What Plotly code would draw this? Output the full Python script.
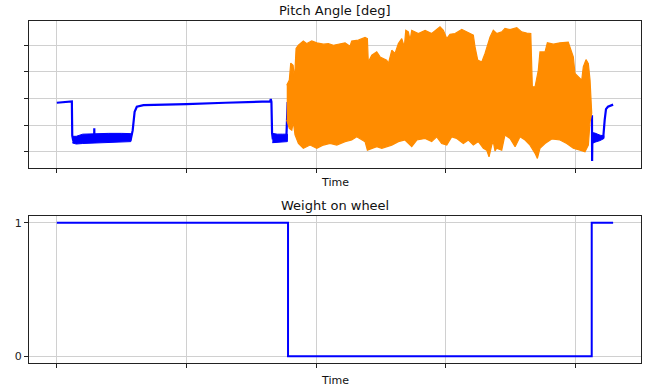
import plotly.graph_objects as go
from plotly.subplots import make_subplots

# ---------------- data ----------------
# Pitch angle, on-ground portions (blue line)
blue_x = [0.0, 0.116, 0.119, 0.125, 0.288, 0.289, 0.29, 0.57, 0.585, 0.60, 0.617, 0.668, 0.8, 1.0, 1.3,
          1.645, 1.65, 1.655, 1.66, 1.665, 1.77, 1.775, 1.78,
          None,
          4.127, 4.128, 4.129, 4.13, 4.135, 4.19, 4.2, 4.215, 4.225, 4.235, 4.25, 4.27, 4.29]
blue_y = [1.84, 1.89, 0.6, 0.45, 0.45, 0.88, 0.45, 0.45, 0.8, 1.5, 1.69, 1.75, 1.76, 1.79, 1.84,
          1.89, 1.98, 1.87, 0.7, 0.5, 0.5, 1.2, 1.87,
          None,
          1.37, -0.35, -0.3, 0.5, 0.5, 0.5, 0.55, 0.6, 1.2, 1.6, 1.69, 1.74, 1.77]

# Noisy blue bands on ground (upper / lower envelopes)
bandA_x = [0.12, 0.15, 0.2, 0.3, 0.4, 0.5, 0.571]
bandA_up = [0.58, 0.58, 0.66, 0.68, 0.69, 0.69, 0.68]
bandA_lo = [0.33, 0.29, 0.31, 0.33, 0.36, 0.37, 0.38]
bandB_x = [1.662, 1.70, 1.74, 1.778]
bandB_up = [0.69, 0.66, 0.66, 0.66]
bandB_lo = [0.34, 0.36, 0.36, 0.38]
bandC_x = [4.128, 4.15, 4.19, 4.22]
bandC_up = [0.72, 0.70, 0.62, 0.60]
bandC_lo = [0.31, 0.36, 0.42, 0.50]

# Pitch angle in flight (orange, dense oscillation: upper and lower envelopes)
orange_up_x = [1.773, 1.793, 1.804, 1.822, 1.830, 1.834, 1.845, 1.863, 1.901, 1.928, 1.966, 2.005, 2.056,
               2.094, 2.133, 2.184, 2.223, 2.261, 2.274, 2.325, 2.377, 2.395, 2.402, 2.429, 2.467, 2.493,
               2.544, 2.557, 2.583, 2.608, 2.634, 2.660, 2.680, 2.691, 2.711, 2.724, 2.737, 2.788, 2.840,
               2.891, 2.955, 2.981, 3.007, 3.032, 3.071, 3.123, 3.174, 3.212, 3.225, 3.246, 3.277, 3.302,
               3.341, 3.366, 3.392, 3.431, 3.456, 3.495, 3.547, 3.585, 3.624, 3.655, 3.667, 3.688, 3.713,
               3.726, 3.765, 3.783, 3.829, 3.880, 3.944, 3.957, 3.983, 3.996, 4.022, 4.048, 4.060, 4.081,
               4.099, 4.112, 4.125]
orange_up_y = [2.5, 2.69, 3.33, 3.25, 2.88, 2.8, 3.88, 4.00, 4.16, 4.06, 4.16, 4.09, 4.04,
               4.06, 4.00, 4.06, 4.09, 3.96, 4.16, 4.19, 4.29, 4.25, 3.37, 3.63, 3.75, 3.56,
               3.44, 3.31, 3.81, 3.69, 4.06, 4.25, 3.94, 4.56, 4.50, 4.19, 4.56, 4.44, 4.56,
               4.44, 4.69, 4.56, 4.25, 4.41, 4.44, 4.59, 4.46, 4.38, 3.94, 3.44, 3.37, 3.69,
               4.31, 4.56, 4.44, 4.50, 4.63, 4.59, 4.66, 4.50, 4.46, 4.44, 2.44, 2.44, 3.06,
               3.75, 3.75, 4.09, 4.04, 4.09, 4.12, 3.94, 3.56, 2.94, 2.81, 2.69, 3.19, 3.46,
               3.31, 2.69, 1.45]
orange_lo_x = [1.773, 1.793, 1.812, 1.824, 1.837, 1.863, 1.901, 1.953, 2.005, 2.056, 2.107, 2.159, 2.223,
               2.274, 2.313, 2.352, 2.377, 2.395, 2.429, 2.467, 2.506, 2.544, 2.583, 2.634, 2.685, 2.737,
               2.776, 2.840, 2.891, 2.930, 2.968, 3.007, 3.045, 3.084, 3.135, 3.174, 3.212, 3.251, 3.289,
               3.315, 3.333, 3.354, 3.366, 3.379, 3.392, 3.431, 3.456, 3.495, 3.534, 3.572, 3.611, 3.649,
               3.688, 3.706, 3.726, 3.765, 3.817, 3.880, 3.932, 3.983, 4.035, 4.073, 4.099, 4.112, 4.125]
orange_lo_y = [1.19, 0.88, 0.81, 1.12, 0.63, 0.31, 0.13, 0.25, 0.13, 0.25, 0.31, 0.25, 0.38,
               0.44, 0.56, 0.44, 0.38, 0.06, 0.13, 0.19, 0.13, 0.19, 0.25, 0.38, 0.44, 0.19,
               0.44, 0.50, 0.38, 0.56, 0.31, 0.25, 0.56, 0.50, 0.31, 0.44, 0.25, 0.38, 0.13,
               0.06, -0.19, 0.25, 0.38, 0.03, 0.13, 0.06, 0.63, 0.50, 0.19, 0.56, 0.44, 0.25,
               -0.06, -0.25, 0.13, 0.31, 0.48, 0.44, 0.31, 0.13, 0.06, 0.00, 0.25, 1.12, 1.45]

# Weight on wheel (step signal)
wow_x = [0.0, 1.783, 4.125, 4.29]
wow_y = [1, 0, 1, 1]

x_ticks = [0, 1, 2, 3, 4]
pitch_ticks = [0, 1, 2, 3, 4]
wow_ticks = [0, 1]
wow_ticklabels = ["0", "1"]

BLUE = "#0000ff"
ORANGE = "#ff8c00"
GRID = "#d0d0d0"
FONT = "DejaVu Sans"

fig = make_subplots(rows=2, cols=1)


def band(xs, up, lo):
    return xs + xs[::-1], up + lo[::-1]


for bx, bu, bl in [(bandA_x, bandA_up, bandA_lo), (bandB_x, bandB_up, bandB_lo), (bandC_x, bandC_up, bandC_lo)]:
    px, py = band(bx, bu, bl)
    fig.add_trace(go.Scatter(x=px, y=py, mode="lines", fill="toself", fillcolor=BLUE,
                             line=dict(color=BLUE, width=1), hoverinfo="skip", showlegend=False), row=1, col=1)

fig.add_trace(go.Scatter(x=blue_x, y=blue_y, mode="lines", line=dict(color=BLUE, width=2.2),
                         showlegend=False), row=1, col=1)

ox, oy = orange_up_x + orange_lo_x[::-1], orange_up_y + orange_lo_y[::-1]
fig.add_trace(go.Scatter(x=ox, y=oy, mode="lines", fill="toself", fillcolor=ORANGE,
                         line=dict(color=ORANGE, width=1.2), showlegend=False), row=1, col=1)

fig.add_trace(go.Scatter(x=wow_x, y=wow_y, mode="lines", line=dict(color=BLUE, width=2, shape="hv"),
                         showlegend=False), row=2, col=1)

axis_common = dict(showline=True, mirror=True, linecolor="#222222", linewidth=1,
                   showgrid=True, gridcolor=GRID, gridwidth=1, zeroline=False,
                   ticks="outside", ticklen=4, tickcolor="#222222", tickwidth=1)

fig.update_xaxes(range=[-0.2145, 4.505], tickvals=x_ticks, showticklabels=False, **axis_common)
fig.update_yaxes(row=1, col=1, range=[-0.6, 4.91], tickvals=pitch_ticks, showticklabels=False, **axis_common)
fig.update_yaxes(row=2, col=1, range=[-0.05, 1.05], tickvals=wow_ticks, ticktext=wow_ticklabels,
                 showticklabels=True, tickfont=dict(family=FONT, size=11, color="#222222"), **axis_common)

fig.update_layout(
    width=652, height=389,
    margin=dict(l=29, r=11, t=21, b=26),
    plot_bgcolor="white", paper_bgcolor="white",
    xaxis=dict(domain=[0, 1]), yaxis=dict(domain=[0.571, 1.0]),
    xaxis2=dict(domain=[0, 1]), yaxis2=dict(domain=[0.0, 0.4298]),
    font=dict(family=FONT, color="#222222"),
    annotations=[
        dict(text="Pitch Angle [deg]", x=0.5, y=1.0307, xref="paper", yref="paper", showarrow=False,
             xanchor="center", yanchor="middle", font=dict(size=13, family=FONT, color="#111111")),
        dict(text="Time", x=0.5, y=0.528, xref="paper", yref="paper", showarrow=False,
             xanchor="center", yanchor="middle", font=dict(size=11, family=FONT, color="#111111")),
        dict(text="Weight on wheel", x=0.5, y=0.4605, xref="paper", yref="paper", showarrow=False,
             xanchor="center", yanchor="middle", font=dict(size=13, family=FONT, color="#111111")),
        dict(text="Time", x=0.5, y=-0.0526, xref="paper", yref="paper", showarrow=False,
             xanchor="center", yanchor="middle", font=dict(size=11, family=FONT, color="#111111")),
    ],
)

fig.write_html("out.html")
